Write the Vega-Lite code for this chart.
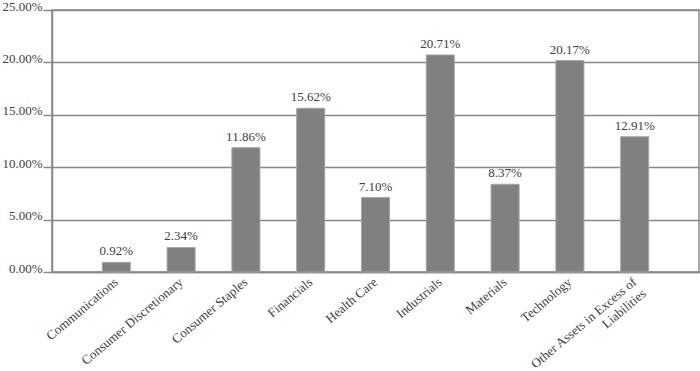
{
  "$schema": "https://vega.github.io/schema/vega-lite/v6.json",
  "autosize": "none",
  "width": 647,
  "height": 262,
  "padding": {"left": 52, "top": 10, "right": 1, "bottom": 99},
  "background": "white",
  "config": {
    "view": {"stroke": "#888888", "strokeWidth": 1.5},
    "axis": {"labelColor": "#404040", "domainColor": "#888888", "tickColor": "#888888", "gridColor": "#888888", "gridWidth": 1.5}
  },
  "data": {
    "values": [
      {"sector": "Communications", "pct": 0.0092},
      {"sector": "Consumer Discretionary", "pct": 0.0234},
      {"sector": "Consumer Staples", "pct": 0.1186},
      {"sector": "Financials", "pct": 0.1562},
      {"sector": "Health Care", "pct": 0.0710},
      {"sector": "Industrials", "pct": 0.2071},
      {"sector": "Materials", "pct": 0.0837},
      {"sector": "Technology", "pct": 0.2017},
      {"sector": "Other Assets in Excess of Liabilities", "pct": 0.1291}
    ]
  },
  "encoding": {
    "x": {
      "field": "sector",
      "type": "nominal",
      "sort": null,
      "title": null,
      "scale": {"paddingInner": 0.567, "paddingOuter": 0.776},
      "axis": {
        "labelAngle": -40,
        "labelAlign": "right",
        "labelBaseline": "middle",
        "labelFont": "Liberation Serif",
        "labelFontSize": 13,
        "labelPadding": 8,
        "ticks": false,
        "domainWidth": 1.5,
        "labelLimit": 300,
        "labelExpr": "datum.value == 'Other Assets in Excess of Liabilities' ? ['Other Assets in Excess of', 'Liabilities'] : datum.value"
      }
    },
    "y": {
      "field": "pct",
      "type": "quantitative",
      "title": null,
      "scale": {"domain": [0, 0.25], "nice": false},
      "axis": {
        "values": [0, 0.05, 0.1, 0.15, 0.2, 0.25],
        "format": ".2%",
        "labelFont": "Liberation Serif",
        "labelFontSize": 13,
        "labelBaseline": "alphabetic",
        "labelPadding": 1,
        "tickSize": 9,
        "tickWidth": 1.5,
        "domainWidth": 1.5,
        "grid": true
      }
    }
  },
  "layer": [
    {
      "mark": {"type": "bar", "color": "#808080", "stroke": "#A6A6A6", "strokeWidth": 1}
    },
    {
      "mark": {"type": "text", "dy": -7, "baseline": "alphabetic", "font": "Liberation Serif", "fontSize": 13, "color": "#404040"},
      "encoding": {
        "text": {"field": "pct", "type": "quantitative", "format": ".2%"}
      }
    }
  ]
}
